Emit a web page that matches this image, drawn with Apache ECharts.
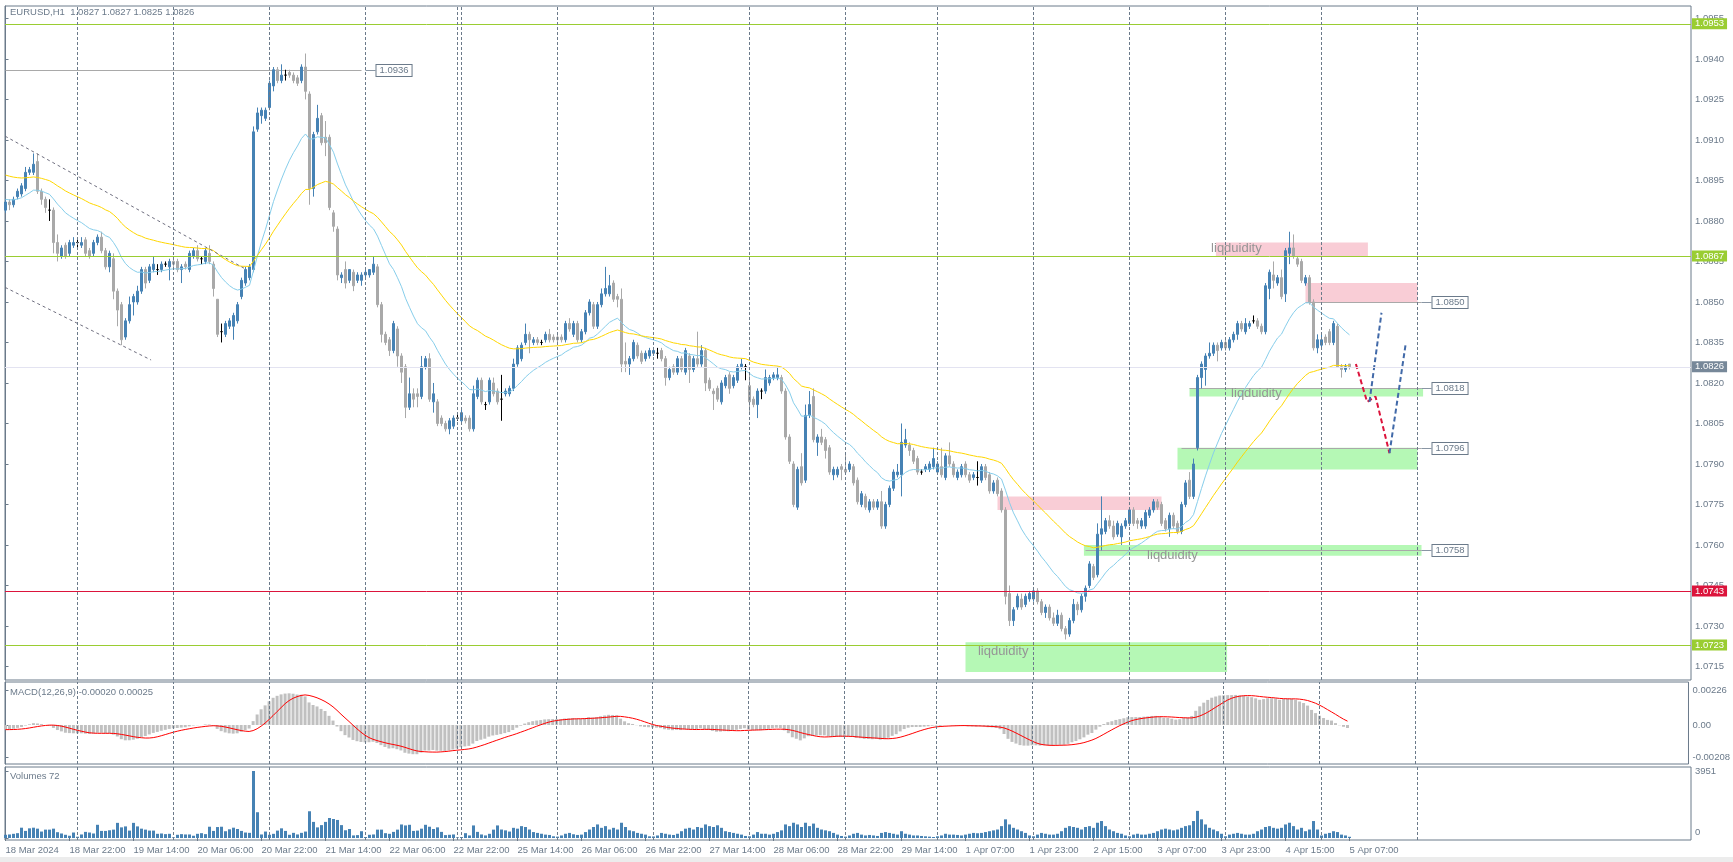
<!DOCTYPE html>
<html><head><meta charset="utf-8">
<script src="https://cdn.jsdelivr.net/npm/echarts@6/dist/echarts.min.js"></script>
<style>html,body{margin:0;padding:0;background:#fff;}#c{width:1733px;height:862px;}</style>
</head><body><div id="c"></div>
<script>
// ---------------- data ----------------
const symbolName = 'EURUSD,H1';
const openP = [1.0884,1.0887,1.0886,1.0889,1.0890,1.0892,1.0898,1.0898,1.0902,1.0891,1.0888,1.0884,1.0884,1.0872,1.0867,1.0871,1.0868,1.0871,1.0872,1.0871,
1.0873,1.0869,1.0868,1.0872,1.0874,1.0869,1.0863,1.0866,1.0854,1.0849,1.0837,1.0843,1.0850,1.0850,1.0854,1.0862,1.0858,1.0862,1.0862,1.0862,
1.0864,1.0863,1.0865,1.0865,1.0862,1.0864,1.0862,1.0867,1.0869,1.0866,1.0865,1.0868,1.0864,1.0851,1.0839,1.0838,1.0841,1.0841,1.0843,1.0852,
1.0857,1.0859,1.0862,1.0914,1.0919,1.0918,1.0922,1.0930,1.0936,1.0932,1.0934,1.0935,1.0934,1.0933,1.0932,1.0937,1.0927,1.0892,1.0913,1.0919,
1.0911,1.0911,1.0883,1.0877,1.0859,1.0862,1.0858,1.0861,1.0858,1.0858,1.0860,1.0860,1.0861,1.0863,1.0849,1.0838,1.0836,1.0832,1.0840,1.0830,
1.0826,1.0811,1.0816,1.0816,1.0815,1.0826,1.0829,1.0813,1.0813,1.0807,1.0805,1.0803,1.0804,1.0807,1.0806,1.0807,1.0807,1.0803,1.0815,1.0821,
1.0812,1.0813,1.0820,1.0817,1.0814,1.0816,1.0816,1.0818,1.0827,1.0829,1.0835,1.0838,1.0835,1.0836,1.0835,1.0836,1.0838,1.0837,1.0837,1.0837,
1.0836,1.0842,1.0838,1.0842,1.0836,1.0839,1.0846,1.0849,1.0841,1.0849,1.0853,1.0853,1.0857,1.0852,1.0851,1.0828,1.0827,1.0829,1.0834,1.0831,
1.0829,1.0830,1.0831,1.0831,1.0832,1.0829,1.0822,1.0826,1.0824,1.0829,1.0824,1.0830,1.0825,1.0829,1.0827,1.0832,1.0821,1.0817,1.0818,1.0813,
1.0819,1.0823,1.0819,1.0821,1.0826,1.0826,1.0819,1.0814,1.0812,1.0817,1.0817,1.0820,1.0822,1.0822,1.0822,1.0817,1.0800,1.0790,1.0774,1.0789,
1.0784,1.0808,1.0815,1.0798,1.0800,1.0799,1.0796,1.0786,1.0786,1.0789,1.0788,1.0788,1.0789,1.0784,1.0775,1.0778,1.0773,1.0776,1.0774,1.0776,
1.0767,1.0775,1.0781,1.0786,1.0786,1.0797,1.0797,1.0795,1.0792,1.0787,1.0788,1.0788,1.0789,1.0787,1.0789,1.0785,1.0793,1.0790,1.0785,1.0786,
1.0790,1.0786,1.0785,1.0785,1.0784,1.0789,1.0786,1.0780,1.0784,1.0780,1.0773,1.0742,1.0732,1.0737,1.0740,1.0738,1.0740,1.0740,1.0743,1.0739,
1.0735,1.0737,1.0733,1.0731,1.0734,1.0729,1.0727,1.0732,1.0738,1.0736,1.0741,1.0745,1.0752,1.0749,1.0764,1.0765,1.0769,1.0767,1.0764,1.0763,
1.0767,1.0768,1.0773,1.0769,1.0767,1.0767,1.0771,1.0773,1.0776,1.0775,1.0769,1.0766,1.0771,1.0768,1.0765,1.0775,1.0784,1.0778,1.0796,1.0822,
1.0825,1.0830,1.0831,1.0834,1.0833,1.0835,1.0833,1.0836,1.0838,1.0842,1.0839,1.0841,1.0843,1.0843,1.0841,1.0839,1.0855,1.0860,1.0857,1.0859,
1.0853,1.0868,1.0870,1.0866,1.0865,1.0857,1.0859,1.0850,1.0833,1.0834,1.0837,1.0839,1.0835,1.0841,1.0826,1.0825,1.0827];
const highP = [1.0888,1.0888,1.0889,1.0892,1.0894,1.0900,1.0900,1.0905,1.0905,1.0892,1.0889,1.0888,1.0885,1.0875,1.0871,1.0872,1.0873,1.0874,1.0874,1.0874,
1.0874,1.0870,1.0873,1.0875,1.0876,1.0870,1.0869,1.0868,1.0855,1.0850,1.0844,1.0852,1.0853,1.0856,1.0863,1.0863,1.0864,1.0867,1.0864,1.0865,
1.0865,1.0866,1.0866,1.0866,1.0864,1.0865,1.0869,1.0870,1.0871,1.0867,1.0870,1.0871,1.0865,1.0851,1.0842,1.0843,1.0844,1.0846,1.0850,1.0859,
1.0863,1.0864,1.0915,1.0922,1.0922,1.0922,1.0932,1.0937,1.0937,1.0938,1.0936,1.0936,1.0935,1.0934,1.0938,1.0942,1.0928,1.0913,1.0923,1.0920,
1.0917,1.0912,1.0884,1.0878,1.0861,1.0865,1.0862,1.0862,1.0861,1.0861,1.0862,1.0862,1.0867,1.0864,1.0850,1.0839,1.0837,1.0843,1.0841,1.0831,
1.0827,1.0822,1.0818,1.0818,1.0830,1.0830,1.0831,1.0820,1.0814,1.0808,1.0806,1.0807,1.0808,1.0809,1.0810,1.0808,1.0808,1.0819,1.0822,1.0822,
1.0813,1.0822,1.0822,1.0818,1.0823,1.0818,1.0819,1.0829,1.0834,1.0835,1.0842,1.0839,1.0837,1.0837,1.0836,1.0839,1.0840,1.0838,1.0838,1.0838,
1.0843,1.0844,1.0843,1.0843,1.0840,1.0847,1.0851,1.0850,1.0850,1.0855,1.0863,1.0860,1.0858,1.0853,1.0855,1.0835,1.0830,1.0836,1.0835,1.0832,
1.0832,1.0833,1.0833,1.0833,1.0833,1.0830,1.0826,1.0827,1.0830,1.0830,1.0833,1.0831,1.0830,1.0839,1.0834,1.0833,1.0822,1.0818,1.0819,1.0821,
1.0823,1.0824,1.0823,1.0827,1.0829,1.0827,1.0824,1.0815,1.0818,1.0818,1.0825,1.0823,1.0824,1.0826,1.0823,1.0818,1.0801,1.0791,1.0789,1.0794,
1.0812,1.0817,1.0818,1.0801,1.0803,1.0800,1.0797,1.0789,1.0789,1.0790,1.0794,1.0791,1.0790,1.0785,1.0780,1.0779,1.0777,1.0777,1.0777,1.0780,
1.0776,1.0782,1.0788,1.0790,1.0805,1.0803,1.0798,1.0796,1.0793,1.0788,1.0790,1.0791,1.0796,1.0791,1.0796,1.0794,1.0798,1.0791,1.0788,1.0790,
1.0791,1.0787,1.0787,1.0791,1.0790,1.0790,1.0787,1.0784,1.0785,1.0781,1.0774,1.0745,1.0737,1.0742,1.0742,1.0742,1.0743,1.0744,1.0744,1.0740,
1.0738,1.0738,1.0735,1.0736,1.0735,1.0730,1.0733,1.0740,1.0739,1.0742,1.0745,1.0754,1.0753,1.0768,1.0778,1.0770,1.0771,1.0769,1.0769,1.0768,
1.0770,1.0774,1.0774,1.0770,1.0770,1.0773,1.0774,1.0777,1.0777,1.0776,1.0770,1.0772,1.0772,1.0769,1.0776,1.0784,1.0787,1.0792,1.0823,1.0828,
1.0831,1.0835,1.0835,1.0835,1.0836,1.0836,1.0837,1.0839,1.0843,1.0843,1.0844,1.0843,1.0845,1.0844,1.0842,1.0857,1.0862,1.0865,1.0860,1.0862,
1.0870,1.0876,1.0875,1.0867,1.0866,1.0860,1.0860,1.0851,1.0838,1.0838,1.0838,1.0840,1.0843,1.0842,1.0827,1.0827,1.0827];
const lowP = [1.0883,1.0884,1.0885,1.0888,1.0889,1.0891,1.0897,1.0897,1.0890,1.0886,1.0883,1.0880,1.0868,1.0865,1.0866,1.0866,1.0867,1.0870,1.0870,1.0870,
1.0867,1.0866,1.0867,1.0871,1.0868,1.0862,1.0861,1.0851,1.0841,1.0834,1.0836,1.0842,1.0845,1.0849,1.0853,1.0855,1.0857,1.0861,1.0860,1.0861,
1.0863,1.0858,1.0863,1.0861,1.0857,1.0862,1.0861,1.0866,1.0865,1.0864,1.0864,1.0864,1.0852,1.0837,1.0835,1.0837,1.0840,1.0836,1.0842,1.0851,
1.0856,1.0858,1.0861,1.0913,1.0916,1.0917,1.0921,1.0928,1.0931,1.0931,1.0932,1.0933,1.0931,1.0930,1.0931,1.0925,1.0886,1.0889,1.0912,1.0908,
1.0904,1.0884,1.0876,1.0858,1.0857,1.0855,1.0857,1.0854,1.0857,1.0856,1.0859,1.0859,1.0860,1.0848,1.0835,1.0834,1.0830,1.0831,1.0826,1.0820,
1.0807,1.0810,1.0811,1.0811,1.0814,1.0825,1.0813,1.0809,1.0804,1.0804,1.0802,1.0801,1.0803,1.0806,1.0805,1.0805,1.0802,1.0802,1.0814,1.0812,
1.0810,1.0812,1.0815,1.0812,1.0806,1.0815,1.0815,1.0817,1.0826,1.0828,1.0834,1.0831,1.0834,1.0834,1.0834,1.0835,1.0835,1.0835,1.0835,1.0835,
1.0835,1.0839,1.0837,1.0835,1.0835,1.0838,1.0845,1.0840,1.0840,1.0848,1.0852,1.0852,1.0850,1.0848,1.0824,1.0824,1.0823,1.0828,1.0829,1.0827,
1.0828,1.0829,1.0830,1.0829,1.0828,1.0819,1.0821,1.0823,1.0823,1.0824,1.0823,1.0820,1.0824,1.0826,1.0826,1.0817,1.0817,1.0810,1.0813,1.0812,
1.0818,1.0816,1.0818,1.0820,1.0825,1.0821,1.0809,1.0811,1.0807,1.0814,1.0816,1.0819,1.0821,1.0821,1.0816,1.0799,1.0790,1.0774,1.0773,1.0782,
1.0783,1.0807,1.0798,1.0793,1.0797,1.0792,1.0786,1.0784,1.0785,1.0784,1.0786,1.0787,1.0782,1.0775,1.0774,1.0773,1.0772,1.0773,1.0773,1.0766,
1.0766,1.0774,1.0780,1.0785,1.0778,1.0796,1.0793,1.0790,1.0786,1.0786,1.0787,1.0787,1.0788,1.0786,1.0785,1.0784,1.0789,1.0785,1.0784,1.0785,
1.0785,1.0783,1.0784,1.0782,1.0783,1.0784,1.0779,1.0779,1.0778,1.0772,1.0738,1.0730,1.0730,1.0736,1.0736,1.0737,1.0739,1.0739,1.0738,1.0734,
1.0733,1.0732,1.0730,1.0730,1.0728,1.0725,1.0726,1.0731,1.0734,1.0735,1.0739,1.0744,1.0747,1.0748,1.0758,1.0764,1.0766,1.0762,1.0763,1.0760,
1.0766,1.0767,1.0767,1.0766,1.0766,1.0766,1.0770,1.0772,1.0773,1.0767,1.0765,1.0763,1.0766,1.0764,1.0764,1.0774,1.0777,1.0777,1.0795,1.0818,
1.0819,1.0829,1.0830,1.0828,1.0832,1.0832,1.0832,1.0835,1.0836,1.0839,1.0838,1.0840,1.0842,1.0840,1.0838,1.0838,1.0851,1.0855,1.0856,1.0851,
1.0850,1.0864,1.0866,1.0863,1.0857,1.0856,1.0849,1.0832,1.0831,1.0833,1.0834,1.0834,1.0834,1.0826,1.0822,1.0824,1.0825];
const closeP = [1.0887,1.0886,1.0888,1.0891,1.0893,1.0898,1.0899,1.0901,1.0891,1.0888,1.0885,1.0884,1.0872,1.0868,1.0870,1.0867,1.0872,1.0872,1.0872,1.0872,
1.0868,1.0867,1.0872,1.0874,1.0869,1.0863,1.0868,1.0854,1.0847,1.0836,1.0843,1.0849,1.0852,1.0854,1.0862,1.0857,1.0863,1.0864,1.0862,1.0864,
1.0864,1.0865,1.0864,1.0862,1.0863,1.0863,1.0868,1.0869,1.0866,1.0866,1.0869,1.0865,1.0855,1.0838,1.0839,1.0842,1.0843,1.0845,1.0849,1.0858,
1.0862,1.0863,1.0913,1.0920,1.0921,1.0921,1.0931,1.0936,1.0932,1.0934,1.0934,1.0934,1.0932,1.0931,1.0937,1.0928,1.0892,1.0912,1.0918,1.0909,
1.0909,1.0885,1.0878,1.0860,1.0860,1.0857,1.0862,1.0856,1.0860,1.0860,1.0861,1.0862,1.0864,1.0849,1.0838,1.0835,1.0832,1.0842,1.0830,1.0824,
1.0811,1.0816,1.0814,1.0815,1.0826,1.0829,1.0814,1.0816,1.0805,1.0805,1.0803,1.0806,1.0807,1.0807,1.0809,1.0806,1.0803,1.0816,1.0821,1.0813,
1.0812,1.0821,1.0816,1.0813,1.0814,1.0817,1.0818,1.0827,1.0833,1.0834,1.0838,1.0836,1.0836,1.0835,1.0835,1.0838,1.0836,1.0836,1.0836,1.0836,
1.0842,1.0840,1.0842,1.0836,1.0839,1.0846,1.0850,1.0841,1.0849,1.0853,1.0855,1.0856,1.0851,1.0851,1.0827,1.0827,1.0829,1.0835,1.0830,1.0828,
1.0831,1.0832,1.0832,1.0831,1.0829,1.0822,1.0825,1.0824,1.0829,1.0825,1.0832,1.0825,1.0829,1.0827,1.0832,1.0820,1.0818,1.0816,1.0814,1.0820,
1.0822,1.0818,1.0822,1.0826,1.0827,1.0826,1.0813,1.0812,1.0817,1.0817,1.0822,1.0822,1.0823,1.0823,1.0817,1.0800,1.0791,1.0775,1.0788,1.0783,
1.0808,1.0812,1.0799,1.0800,1.0798,1.0795,1.0787,1.0788,1.0788,1.0788,1.0787,1.0790,1.0783,1.0776,1.0779,1.0774,1.0776,1.0774,1.0776,1.0767,
1.0775,1.0781,1.0787,1.0787,1.0798,1.0799,1.0795,1.0791,1.0787,1.0787,1.0789,1.0790,1.0792,1.0790,1.0786,1.0793,1.0790,1.0786,1.0787,1.0789,
1.0786,1.0784,1.0786,1.0785,1.0789,1.0785,1.0780,1.0783,1.0779,1.0773,1.0741,1.0732,1.0736,1.0741,1.0737,1.0741,1.0742,1.0743,1.0739,1.0735,
1.0737,1.0733,1.0731,1.0734,1.0729,1.0727,1.0732,1.0738,1.0736,1.0741,1.0744,1.0753,1.0748,1.0764,1.0766,1.0769,1.0767,1.0763,1.0768,1.0767,
1.0769,1.0773,1.0768,1.0768,1.0769,1.0772,1.0773,1.0776,1.0774,1.0768,1.0766,1.0771,1.0767,1.0765,1.0775,1.0783,1.0778,1.0790,1.0822,1.0827,
1.0830,1.0831,1.0834,1.0832,1.0835,1.0833,1.0836,1.0838,1.0842,1.0840,1.0842,1.0842,1.0843,1.0841,1.0839,1.0856,1.0861,1.0858,1.0859,1.0852,
1.0869,1.0870,1.0867,1.0864,1.0858,1.0859,1.0850,1.0833,1.0836,1.0836,1.0835,1.0835,1.0842,1.0826,1.0825,1.0826,1.0826];
const volumes = [190,209,247,285,608,418,570,608,551,380,494,494,551,342,266,190,133,323,76,209,
361,323,266,779,418,418,456,494,893,627,684,437,893,684,551,494,437,437,247,266,
228,247,38,190,228,209,209,133,247,285,228,665,418,646,665,399,513,608,532,418,
323,304,3951,1520,209,380,190,247,437,570,418,190,304,209,304,380,1577,950,627,760,
950,1178,1121,1064,760,456,532,152,171,399,60,190,209,494,494,285,247,361,494,798,
741,779,418,437,551,779,665,532,627,361,171,190,209,38,57,285,152,741,361,209,
152,247,494,741,500,450,380,600,550,700,650,500,350,300,250,200,180,100,80,150,
250,300,220,180,200,350,500,650,800,600,700,500,600,500,900,650,450,400,300,250,
200,100,90,150,300,250,200,180,250,400,550,600,500,650,600,800,700,650,750,600,
400,350,300,250,200,120,100,200,350,250,250,200,250,350,450,800,700,900,800,650,
900,700,850,600,500,450,400,300,200,120,80,150,250,300,200,150,180,150,120,300,
350,300,250,200,400,250,200,150,150,120,100,80,60,100,150,250,200,200,180,150,
200,250,300,280,300,350,400,450,500,700,1100,800,600,500,400,300,150,100,200,300,
250,200,200,250,400,600,700,650,600,500,650,700,600,900,1000,700,500,400,300,250,
150,100,200,250,200,200,250,300,400,500,550,500,450,500,600,700,750,1000,1600,1100,
800,600,500,400,250,100,200,250,300,250,200,200,250,400,500,650,700,600,550,600,
800,900,700,500,600,400,500,1000,500,150,250,300,400,350,200,150,72];

// axis ticks / labels
const priceTicks = [1.0715,1.0730,1.0745,1.0760,1.0775,1.0790,1.0805,1.0820,1.0835,1.0850,1.0865,1.0880,1.0895,1.0910,1.0925,1.0940,1.0955];
const xTickBars = [0,16,32,48,64,80,96,112,128,144,160,176,192,208,224,240,256,272,288,304,320,336];
const xTickLabels = ['18 Mar 2024','18 Mar 22:00','19 Mar 14:00','20 Mar 06:00','20 Mar 22:00','21 Mar 14:00','22 Mar 06:00','22 Mar 22:00','25 Mar 14:00','26 Mar 06:00','26 Mar 22:00','27 Mar 14:00','28 Mar 06:00','28 Mar 22:00','29 Mar 14:00','1 Apr 07:00','1 Apr 23:00','2 Apr 15:00','3 Apr 07:00','3 Apr 23:00','4 Apr 15:00','5 Apr 07:00'];
const dayStartBars = [18,42,66,90,113,114,138,162,186,210,233,257,281,305,329,353];
const macdTicks = [0.00226, 0, -0.00208];
const macdTickLabels = ['0.00226','0.00','-0.00208'];
const volTicks = [3951, 0];
const volTickLabels = ['3951','0'];
const macdTitle = 'MACD(12,26,9) -0.00020 0.00025';
const volTitle = 'Volumes 72';

// indicator settings (periods from the legend, start values read at first bar)
const maFastPeriod = 20, maSlowPeriod = 50;
const maFastStart = 1.0888, maSlowStart = 1.0897;
const macdFastStart = 1.0886, macdSlowStart = 1.0889, macdSignalStart = -0.0003;

// horizontal levels across the chart
const levelPrices = [1.0953, 1.0867, 1.0826, 1.0743, 1.0723];
const levelKinds  = ['green','green','bid','red','green'];
// zones [barFrom, barTo, priceTop, priceBottom]
const zoneBars   = [[302.6,340.6],[325,353],[248,289],[240,305.4],[269.6,354],[293,353],[296,354.4]];
const zonePrices = [[1.0872,1.0867],[1.0857,1.0850],[1.0778,1.0773],[1.0724,1.0713],[1.0760,1.0756],[1.0796,1.0788],[1.0818,1.0815]];
const zoneKinds  = ['supply','supply','supply','demand','demand','demand','demand'];
// short level segments [barFrom, barTo, price]
const segBars   = [[0,89],[325,354],[296,354],[294,354],[270,354]];
const segPrices = [1.0936,1.0850,1.0818,1.0796,1.0758];
// price tags
const tagBars   = [90,354,354,354,354];
const tagPrices = [1.0936,1.0850,1.0818,1.0796,1.0758];
// zone texts
const noteText = 'liqduidity';
const noteBars   = [301.4,306.4,285.4,243.1];
const notePrices = [1.0870,1.08163,1.07563,1.07207];
// trend channel
const channelUpper = [[-0.1,1.09114],[60,1.08622]];
const channelLower = [[-0.1,1.08554],[36.4,1.08285]];
// forecast paths
const fcRed   = [[337.6,1.0827],[340.4,1.0813],[342.5,1.0815],[346,1.0794]];
const fcBlue1 = [[341,1.0813],[344,1.0846]];
const fcBlue2 = [[346,1.0794],[350,1.0834]];

// ---------------- indicators ----------------
function emaFrom(src, period, start){
  const k = 2/(period+1); const out=[start];
  for(let i=1;i<src.length;i++) out.push(out[i-1] + k*(src[i]-out[i-1]));
  return out;
}
const maFast = emaFrom(closeP, maFastPeriod, maFastStart);
const maSlow = emaFrom(closeP, maSlowPeriod, maSlowStart);
const e12 = emaFrom(closeP, 12, macdFastStart), e26 = emaFrom(closeP, 26, macdSlowStart);
const macdMain = e12.map((v,i)=>v-e26[i]);
const macdSig = macdMain.map((_,i)=>{let s=0; for(let j=i-8;j<=i;j++) s += j<0?macdSignalStart:macdMain[j]; return s/9;});

// ---------------- chart ----------------
const TXT = '#6b7a8a', FRAME = '#6b7a8a', FONT = 'Liberation Sans';
const UP = '#4682B4', DOWN = '#A9A9A9';
const levelStyle = {
  green: {line:'#9ACD32', bg:'#9ACD32', fg:'#fff'},
  red:   {line:'#DC143C', bg:'#DC143C', fg:'#fff'},
  bid:   {line:'#E3E3F1', bg:'#778899', fg:'#fff'}
};
const candleData = openP.map((o,i)=>{
  const it = {value:[i, o, closeP[i], lowP[i], highP[i]]};
  if (o === closeP[i]) it.itemStyle = {color:'#000', color0:'#000', borderColor:'#000', borderColor0:'#000'};
  return it;
});
const gridBase = {left:5, right:42, show:true, borderColor:FRAME, borderWidth:1, backgroundColor:'#fff'};
const xBase = {type:'value', min:-0.125, max:421.375, splitLine:{show:false}, axisLine:{show:false}, axisTick:{show:false}, axisLabel:{show:false}};
const lblBase = {color:TXT, fontSize:9.5, fontFamily:FONT};
const sepLine = {silent:true, symbol:'none', animation:false, label:{show:false},
  lineStyle:{color:'#6b7a8a', type:[3,2], width:1}, data: dayStartBars.map(b=>({xAxis:b}))};

const chart = echarts.init(document.getElementById('c'));
chart.setOption({
  animation:false,
  backgroundColor:'#fff',
  textStyle:{fontFamily:FONT},
  title:[
    {text: symbolName+'  '+[openP, highP, lowP, closeP].map(a=>a[a.length-1].toFixed(4)).join(' '), left:10, top:7, padding:0, textStyle:{color:TXT, fontSize:9.5, fontWeight:'normal', fontFamily:FONT}},
    {text: macdTitle, left:10, top:687, padding:0, textStyle:{color:TXT, fontSize:9.5, fontWeight:'normal', fontFamily:FONT}},
    {text: volTitle, left:10, top:771, padding:0, textStyle:{color:TXT, fontSize:9.5, fontWeight:'normal', fontFamily:FONT}}
  ],
  graphic:[{type:'rect', left:0, top:857, shape:{width:1733, height:5}, style:{fill:'#ececec'}, silent:true}],
  grid:[
    Object.assign({top:6, height:674}, gridBase),
    Object.assign({top:682, height:82}, gridBase),
    Object.assign({top:767, height:73}, gridBase)
  ],
  xAxis:[
    Object.assign({gridIndex:0}, xBase),
    Object.assign({gridIndex:1}, xBase),
    Object.assign({}, xBase, {gridIndex:2,
      axisLabel:Object.assign({show:true, customValues:xTickBars, align:'left', margin:5,
        formatter:v=>{const k=xTickBars.indexOf(v); return k<0?'':xTickLabels[k];}}, lblBase),
      axisTick:{show:true, customValues:xTickBars, length:3, lineStyle:{color:FRAME}}})
  ],
  yAxis:[
    {gridIndex:0, type:'value', position:'right', min:1.0710, max:1.09596, splitLine:{show:false},
      axisLine:{show:true, lineStyle:{color:FRAME}},
      axisTick:{show:true, customValues:priceTicks, length:3, lineStyle:{color:FRAME}},
      axisLabel:Object.assign({customValues:priceTicks, margin:4, formatter:v=>v.toFixed(4)}, lblBase)},
    {gridIndex:1, type:'value', position:'right', min:-0.0025183, max:0.0027766, splitLine:{show:false},
      axisLine:{show:true, lineStyle:{color:FRAME}},
      axisTick:{show:true, customValues:macdTicks, length:3, lineStyle:{color:FRAME}},
      axisLabel:Object.assign({customValues:macdTicks, margin:4, formatter:v=>{const k=macdTicks.indexOf(v); return k<0?'':macdTickLabels[k];}}, lblBase)},
    {gridIndex:2, type:'value', position:'right', min:-118, max:4187, splitLine:{show:false},
      axisLine:{show:true, lineStyle:{color:FRAME}},
      axisTick:{show:true, customValues:volTicks, length:3, lineStyle:{color:FRAME}},
      axisLabel:Object.assign({customValues:volTicks, margin:4,
        formatter:v=>{const k=volTicks.indexOf(v); if(k<0) return ''; return v===0?'{z|'+volTickLabels[k]+'}':'{t|'+volTickLabels[k]+'}';},
        rich:{z:{color:TXT,fontSize:9.5,fontFamily:FONT,padding:[0,0,12,0]}, t:{color:TXT,fontSize:9.5,fontFamily:FONT,padding:[0,0,0,0]}}}, lblBase)}
  ],
  series:[
    // zones
    {type:'custom', xAxisIndex:0, yAxisIndex:0, z:1, silent:true,
      data: zoneBars.map((b,i)=>[b[0], b[1], zonePrices[i][0], zonePrices[i][1], i]),
      encode:{x:[0,1], y:[2,3]},
      renderItem:(p, api)=>{
        const a = api.coord([api.value(0), api.value(2)]), b = api.coord([api.value(1), api.value(3)]);
        const kind = zoneKinds[api.value(4)];
        return {type:'rect', shape:{x:a[0], y:a[1], width:b[0]-a[0], height:b[1]-a[1]},
          style:{fill: kind==='supply' ? '#F9CDD6' : '#B5F8B5'}};
      }},
    // grey level segments
    {type:'custom', xAxisIndex:0, yAxisIndex:0, z:1, silent:true,
      data: segBars.map((b,i)=>[b[0], b[1], segPrices[i]]),
      encode:{x:[0,1], y:2},
      renderItem:(p, api)=>{
        const a = api.coord([api.value(0), api.value(2)]), b = api.coord([api.value(1), api.value(2)]);
        return {type:'line', shape:{x1:a[0], y1:Math.round(a[1])+0.5, x2:b[0], y2:Math.round(a[1])+0.5}, style:{stroke:'#A9A9A9', lineWidth:1}};
      }},
    // candles
    {type:'candlestick', xAxisIndex:0, yAxisIndex:0, z:2, barWidth:2,
      encode:{x:0, y:[1,2,3,4]},
      itemStyle:{color:UP, color0:DOWN, borderColor:UP, borderColor0:DOWN, borderWidth:1},
      data: candleData,
      markLine:{silent:true, symbol:'none', animation:false, precision:4,
        data: levelPrices.map((v,i)=>{const s=levelStyle[levelKinds[i]]; return {yAxis:v,
          lineStyle:{color:s.line, type:'solid', width:1},
          label:{show:true, position:'end', distance:1, formatter:v.toFixed(4), backgroundColor:s.bg, color:s.fg,
            padding:[1,3,0,3], fontSize:9.5, fontFamily:FONT}};})}},
    // moving averages
    {type:'line', xAxisIndex:0, yAxisIndex:0, z:3, showSymbol:false, silent:true,
      data: maFast.map((v,i)=>[i,v]), lineStyle:{color:'#87CEEB', width:1}, markLine: sepLine},
    {type:'line', xAxisIndex:0, yAxisIndex:0, z:3, showSymbol:false, silent:true,
      data: maSlow.map((v,i)=>[i,v]), lineStyle:{color:'#FFD700', width:1}},
    // trend channel
    {type:'line', xAxisIndex:0, yAxisIndex:0, z:3, showSymbol:false, silent:true, data:channelUpper, lineStyle:{color:'#6f6f7f', width:1, type:[3,3]}},
    {type:'line', xAxisIndex:0, yAxisIndex:0, z:3, showSymbol:false, silent:true, data:channelLower, lineStyle:{color:'#6f6f7f', width:1, type:[3,3]}},
    // forecast
    {type:'line', xAxisIndex:0, yAxisIndex:0, z:4, showSymbol:false, silent:true, data:fcRed, lineStyle:{color:'#DC143C', width:2, type:[5,3]}},
    {type:'line', xAxisIndex:0, yAxisIndex:0, z:4, showSymbol:false, silent:true, data:fcBlue1, lineStyle:{color:'#4169A8', width:2, type:[5,3]}},
    {type:'line', xAxisIndex:0, yAxisIndex:0, z:4, showSymbol:false, silent:true, data:fcBlue2, lineStyle:{color:'#4169A8', width:2, type:[5,3]}},
    // zone notes
    {type:'custom', xAxisIndex:0, yAxisIndex:0, z:5, silent:true,
      data: noteBars.map((b,i)=>[b, notePrices[i]]), encode:{x:0, y:1},
      renderItem:(p, api)=>{
        const a = api.coord([api.value(0), api.value(1)]);
        return {type:'text', x:a[0], y:a[1], style:{text:noteText, fill:'#959595', font:'13px "Liberation Sans"', align:'left', verticalAlign:'middle'}};
      }},
    // price tags
    {type:'custom', xAxisIndex:0, yAxisIndex:0, z:5, silent:true,
      data: tagBars.map((b,i)=>[b, tagPrices[i]]), encode:{x:0, y:1},
      renderItem:(p, api)=>{
        const a = api.coord([api.value(0), api.value(1)]); const y = Math.round(a[1])+0.5;
        return {type:'group', children:[
          {type:'line', shape:{x1:a[0], y1:y, x2:a[0]+10, y2:y}, style:{stroke:'#8996a4', lineWidth:1}},
          {type:'text', x:a[0]+11, y:y, style:{text:api.value(1).toFixed(4), fill:TXT, font:'9.5px "Liberation Sans"',
            align:'left', verticalAlign:'middle', backgroundColor:'#fff', borderColor:'#6b7a8a', borderWidth:1, padding:[1,3,0,3]}}
        ]};
      }},
    // MACD
    {type:'bar', xAxisIndex:1, yAxisIndex:1, barWidth:3, silent:true, itemStyle:{color:'#C0C0C0'},
      data: macdMain.map((v,i)=>[i,v]), markLine: sepLine},
    {type:'line', xAxisIndex:1, yAxisIndex:1, showSymbol:false, silent:true, z:3,
      data: macdSig.map((v,i)=>[i,v]), lineStyle:{color:'#FF0000', width:1}},
    // Volumes
    {type:'bar', xAxisIndex:2, yAxisIndex:2, barWidth:3, silent:true, itemStyle:{color:'#4682B4'},
      data: volumes.map((v,i)=>[i,v]), markLine: sepLine}
  ]
});
</script></body></html>
